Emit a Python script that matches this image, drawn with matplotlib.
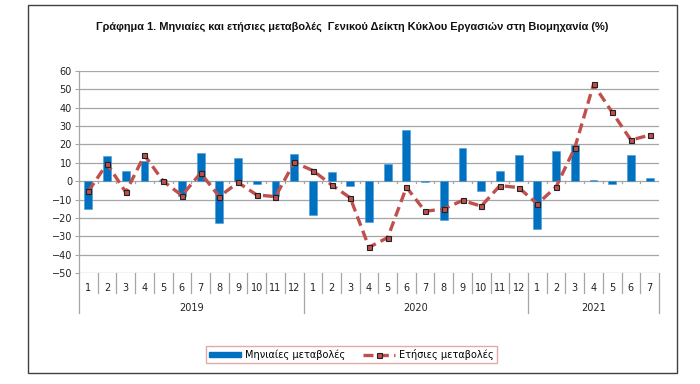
import matplotlib
matplotlib.use("Agg")
import matplotlib.pyplot as plt
import matplotlib.transforms as mtransforms
from matplotlib.patches import Rectangle, Patch
from matplotlib.lines import Line2D
import numpy as np

plt.rcParams['font.family'] = ['DejaVu Sans']

months = ['1','2','3','4','5','6','7','8','9','10','11','12',
          '1','2','3','4','5','6','7','8','9','10','11','12',
          '1','2','3','4','5','6','7']
years = ['2019', '2020', '2021']
year_counts = [12, 12, 7]

monthly = [-15.0, 13.5, 5.5, 11.0, 0.5, -8.2, 15.1, -22.5, 12.4, -1.5, -8.0, 14.9,
           -18.2, 4.9, -2.4, -22.0, 9.1, 27.8, -0.3, -20.9, 18.2, -5.1, 5.5, 14.0,
           -26.0, 16.2, 19.5, 0.9, -1.8, 14.0, 1.8]
annual = [-5.5, 9.5, -6.0, 14.2, 0.0, -7.8, 4.4, -8.4, -0.7, -7.5, -8.4, 10.2,
          5.8, -2.0, -9.1, -36.0, -30.7, -3.3, -16.4, -15.1, -10.5, -13.6, -2.4, -3.5,
          -12.4, -3.1, 18.2, 52.7, 37.5, 22.4, 25.1]

title = 'Γράφημα 1. Μηνιαίες και ετήσιες μεταβολές  Γενικού Δείκτη Κύκλου Εργασιών στη Βιομηχανία (%)'
label_monthly = 'Μηνιαίες μεταβολές'
label_annual = 'Ετήσιες μεταβολές'

W, H = 700, 384
fig = plt.figure(figsize=(7, 3.84), dpi=100)

# outer border
fig.patches.append(Rectangle((28 / W, 1 - 373 / H), 649 / W, 368.5 / H,
                             transform=fig.transFigure, fill=False,
                             edgecolor='#404040', linewidth=1.0))

left, right, top, bottom = 79, 659, 71, 273
ax = fig.add_axes([left / W, 1 - bottom / H, (right - left) / W, (bottom - top) / H])

x = np.arange(len(monthly))
grid_c = '#a6a6a6'
ax.set_ylim(-50, 60)
ax.set_xlim(-0.5, len(monthly) - 0.5)
ax.set_yticks(np.arange(-50, 61, 10))
for v in np.arange(-50, 61, 10):
    ax.axhline(v, color=grid_c, linewidth=0.9, zorder=0)

ax.bar(x, monthly, width=0.42, color='#0070C0', edgecolor='#4a9ad6', linewidth=0.4, zorder=2)
ax.plot(x, annual, color='#C0504D', linestyle=(0, (3, 1.6)), linewidth=2.4, zorder=3,
        marker='s', markersize=3.6, markerfacecolor='#C0504D', markeredgecolor='#222222',
        markeredgewidth=0.8)

for s in ['top', 'right', 'bottom']:
    ax.spines[s].set_visible(False)
ax.spines['left'].set_color(grid_c)
ax.spines['left'].set_linewidth(0.9)
ax.tick_params(axis='y', length=3, color=grid_c, labelsize=7, pad=2, labelcolor='#222222')
ax.tick_params(axis='x', length=0, labelbottom=False)

h = bottom - top
trans = mtransforms.blended_transform_factory(ax.transData, ax.transAxes)
# zero-line ticks
for b in np.arange(-0.5, len(monthly), 1.0):
    ax.plot([b, b], [0, -0.8], color=grid_c, linewidth=0.9, zorder=1)

# category dividers
boundaries = np.arange(-0.5, len(monthly), 1.0)
year_edges = set([-0.5])
acc = -0.5
for c in year_counts:
    acc += c
    year_edges.add(acc)
for b in boundaries:
    y_end = -(313 - bottom) / h if b in year_edges else -(293 - bottom) / h
    ax.plot([b, b], [0, y_end], transform=trans, color=grid_c, linewidth=0.9, clip_on=False)

for i, m in enumerate(months):
    ax.text(i, -(288 - bottom) / h, m, transform=trans, ha='center', va='center',
            fontsize=7, color='#222222')
start = 0
for yr, c in zip(years, year_counts):
    ax.text(start + (c - 1) / 2, -(308 - bottom) / h, yr, transform=trans, ha='center',
            va='center', fontsize=7, color='#222222')
    start += c

fig.text(352 / W, 1 - 27 / H, title, ha='center', va='center', fontsize=7.95,
         fontweight='bold', family=['Liberation Sans', 'DejaVu Sans'], color='#111111')

handles = [Patch(facecolor='#0070C0', edgecolor='#0070C0'),
           Line2D([0], [0], color='#C0504D', linestyle=(0, (3, 1.6)), linewidth=2.4,
                  marker='s', markersize=3.6, markerfacecolor='#C0504D',
                  markeredgecolor='#222222', markeredgewidth=0.8)]
leg = fig.legend(handles, [label_monthly, label_annual], loc='center',
                 bbox_to_anchor=(351.5 / W, 1 - 354.5 / H), ncol=2, fontsize=7,
                 frameon=True, fancybox=False, handlelength=3.3, handleheight=0.5,
                 columnspacing=1.8, borderpad=0.35, handletextpad=0.4)
leg.get_frame().set_edgecolor('#D99594')
leg.get_frame().set_linewidth(1.0)

fig.savefig('out.png', dpi=100)
